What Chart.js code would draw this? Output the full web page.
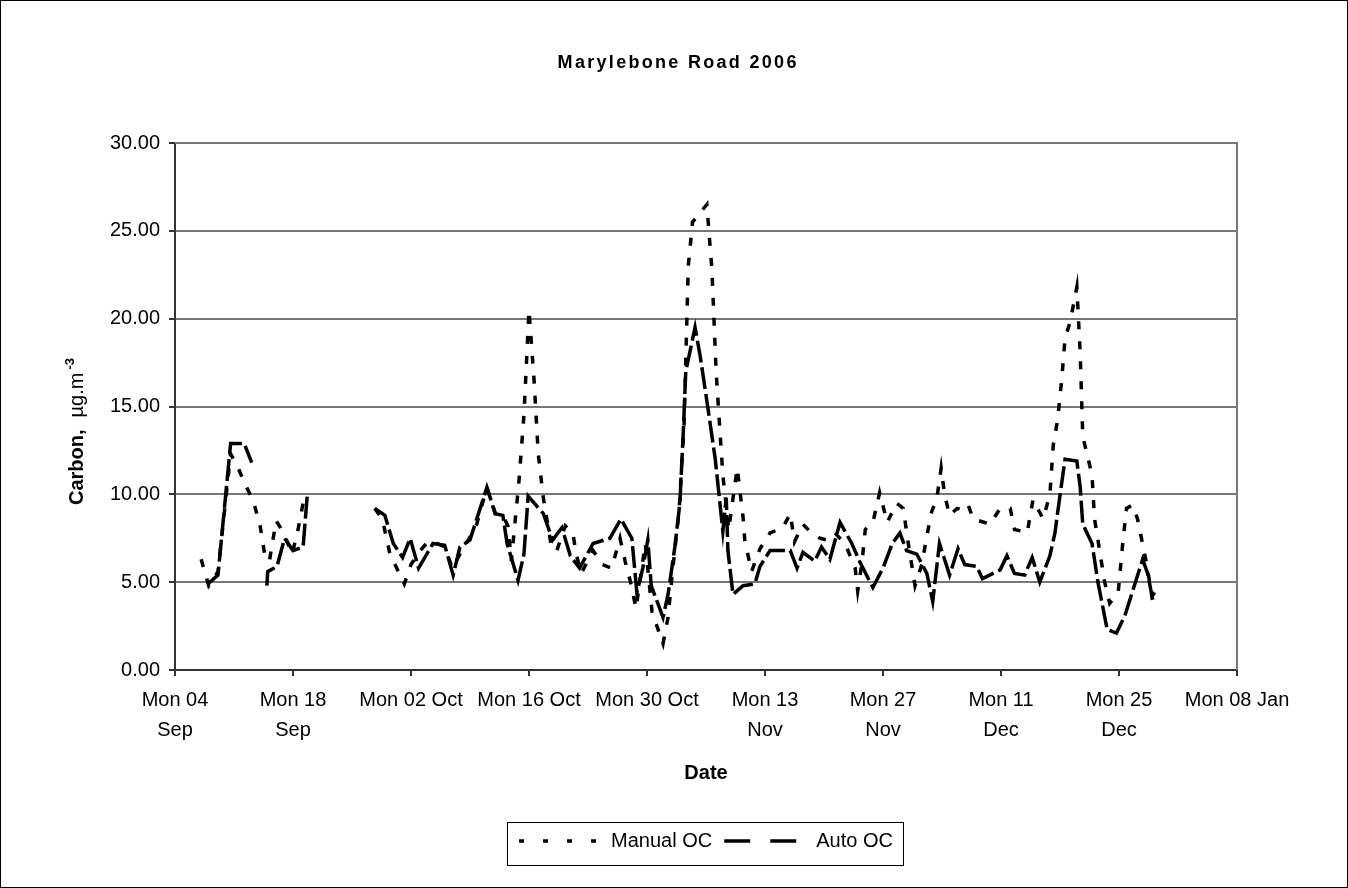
<!DOCTYPE html>
<html>
<head>
<meta charset="utf-8">
<script src="https://cdn.jsdelivr.net/npm/chart.js@4/dist/chart.umd.min.js"></script>
<style>
html,body{margin:0;padding:0;background:#fff;}
#wrap{width:1348px;height:888px;}
canvas{display:block;}
</style>
</head>
<body>
<div id="wrap"><canvas id="c" width="1348" height="888"></canvas></div>
<script>
// ---------- data (days after Mon 04 Sep 2006, values in µg/m3) ----------
const chartTitle = 'Marylebone Road 2006';
const xAxisTitle = 'Date';
const yAxisTitleMain = 'Carbon,';
const yAxisTitleUnit = 'µg.m';
const yAxisTitleSup = '-3';
const seriesNames = ['Manual OC', 'Auto OC'];
const xTickLabels = [['Mon 04', 'Sep'], ['Mon 18', 'Sep'], 'Mon 02 Oct', 'Mon 16 Oct', 'Mon 30 Oct',
  ['Mon 13', 'Nov'], ['Mon 27', 'Nov'], ['Mon 11', 'Dec'], ['Mon 25', 'Dec'], 'Mon 08 Jan'];

const manualDays = [3.1,4.0,5.1,6.6,7.4,8.3,9.3,10.1,10.7,11.2,12.0,12.9,13.9,14.6,15.4,
  19,
  23.7,24.6,25.5,26.3,27.2,28.0,29.1,30.0,31.1,32.0,32.9,33.8,34.8,35.8,37.0,38.0,38.9,39.5,39.9,40.8,
  41.4,42.0,42.6,43.1,43.7,44.7,45.3,46.3,47.2,47.6,48.2,49.6,50.7,51.8,52.8,53.4,54.0,54.7,55.8,56.6,
  57.9,58.5,59.0,59.8,60.4,60.9,61.4,63.1,63.7,64.2,64.6,65.0,65.7,66.7,67.4,67.6,68.4,69.4,70.6,72.1,
  73.0,73.5,74.5,75.3,76.5,77.3,78.3,79.5,80.7,81.0,81.5,81.9,82.8,83.6,84.5,85.6,86.4,87.0,87.8,88.6,
  89.2,89.7,90.4,90.9,91.3,91.9,92.8,93.5,94.1,94.7,96.7,97.9,99.1,99.6,100.5,101.1,101.8,103.0,103.8,104.2,
  104.7,105.2,105.6,106.2,107.0,107.4,107.7,108.8,109.1,109.7,110.3,110.9,111.9,112.5,112.9,113.6,114.2,115.3,115.9,116.5,
  117.2];
const manualValues = [6.3,4.8,5.6,12.3,11.6,10.6,9.6,8.2,6.4,6.2,8.5,7.8,6.6,8.0,10.0,
  null,
  9.2,8.6,6.6,5.8,4.9,6.0,6.8,7.3,7.2,7.0,5.8,6.6,7.4,8.3,10.4,8.9,8.8,8.2,6.2,10.7,
  14.5,20.5,16.5,12.3,9.8,6.9,6.8,8.2,7.8,6.6,5.5,6.8,6.0,5.8,7.5,6.2,5.1,3.5,7.2,3.3,
  1.5,3.0,5.5,9.0,14.0,23.0,25.5,26.5,22.8,17.0,14.0,11.1,8.0,11.5,8.7,7.4,5.6,6.9,7.8,8.1,
  8.9,7.3,8.3,7.9,7.5,7.4,7.8,7.2,5.8,4.5,6.1,8.0,8.4,10.1,8.4,9.5,9.2,7.2,4.8,6.0,
  7.6,8.9,9.8,11.5,10.0,8.8,9.2,9.1,9.4,8.6,8.3,9.2,9.2,8.0,7.9,7.8,9.7,8.6,10.0,12.8,
  14.2,16.5,18.9,19.8,21.8,18.0,13.3,11.1,8.6,6.8,5.0,3.8,4.4,7.5,9.2,9.4,8.6,6.0,4.2,4.6,
  4.4];

const autoDays = [3.9,5.1,6.6,8.2,9.1,
  10,
  10.9,11.0,12.1,13.0,14.0,15.2,15.7,
  19,
  23.7,24.9,25.9,27.0,27.9,28.9,30.6,32.0,33.0,33.8,35.0,37.0,38.0,38.9,39.4,40.7,41.4,41.9,43.7,44.8,
  45.9,46.9,48.0,49.6,51.6,52.9,54.2,54.8,55.5,56.1,56.5,57.9,58.5,59.3,59.9,60.3,60.6,61.7,62.3,63.2,
  64.1,65.0,65.4,65.6,66.2,67.4,68.8,69.4,70.6,73.0,73.8,74.5,75.9,76.7,77.7,78.9,80.3,81.3,82.8,84.0,
  85.1,86.0,86.8,88.0,89.2,89.9,90.7,91.9,92.9,93.7,95.1,95.8,97.9,98.7,99.6,100.8,101.7,102.6,103.8,104.4,
  104.7,105.6,107.0,107.4,107.7,108.8,109.5,110.6,111.7,112.7,114.8,115.4,116.0];
const autoValues = [4.9,5.4,12.9,12.9,11.8,
  null,
  4.8,5.6,5.9,7.5,6.8,7.0,10.0,
  null,
  9.2,8.8,7.2,6.4,7.5,5.8,7.2,7.1,5.4,7.0,7.4,10.4,8.9,8.8,7.2,5.1,6.6,9.9,8.9,7.4,
  8.1,6.5,5.8,7.2,7.5,8.6,7.5,4.4,5.8,7.4,4.8,3.0,4.3,7.0,9.5,13.5,17.0,19.5,17.9,15.0,
  12.0,7.9,9.8,6.8,4.3,4.8,4.9,5.9,6.8,6.8,5.8,6.7,6.2,7.0,6.3,8.4,7.2,6.1,4.7,5.8,
  7.2,7.8,6.8,6.6,5.5,3.9,7.2,5.4,6.9,6.0,5.9,5.2,5.7,6.5,5.5,5.4,6.4,5.0,6.5,7.8,
  8.9,12.0,11.9,10.4,8.3,7.2,5.0,2.3,2.1,3.1,6.3,5.5,4.0];

// ---------- chart ----------
const FONT = '"Liberation Sans", Arial, sans-serif';
const toPoints = (xs, ys) => xs.map((x, i) => ({ x: x, y: ys[i] }));
const legendDashes = [[5, 19], [26, 20]];

const framePlugin = {
  id: 'frames',
  beforeDraw(chart) {
    const ctx = chart.ctx;
    ctx.save();
    ctx.fillStyle = '#fff';
    ctx.fillRect(0, 0, chart.width, chart.height);
    ctx.restore();
  },
  beforeDatasetsDraw(chart) {
    const { ctx, chartArea: a } = chart;
    ctx.save();
    ctx.strokeStyle = '#777';
    ctx.lineWidth = 2;
    ctx.beginPath();
    ctx.moveTo(a.left, a.top);
    ctx.lineTo(a.right, a.top);
    ctx.lineTo(a.right, a.bottom);
    ctx.stroke();
    ctx.restore();
  },
  afterDraw(chart) {
    const ctx = chart.ctx;
    ctx.save();
    // outer border
    ctx.strokeStyle = '#000';
    ctx.lineWidth = 1;
    ctx.strokeRect(0.5, 0.5, chart.width - 1, chart.height - 1);
    // legend box
    const hb = chart.legend && chart.legend.legendHitBoxes;
    if (hb && hb.length) {
      const l = hb[0].left - 12;
      const r = hb[hb.length - 1].left + hb[hb.length - 1].width + 10;
      const t = hb[0].top - 9;
      const b = hb[0].top + hb[0].height + 14;
      ctx.strokeRect(Math.round(l) + 0.5, Math.round(t) + 0.5, Math.round(r - l), Math.round(b - t));
    }
    // chart title (letter-spaced, bold)
    ctx.fillStyle = '#000';
    ctx.font = 'bold 18px ' + FONT;
    ctx.letterSpacing = '2.3px';
    ctx.textBaseline = 'middle';
    ctx.textAlign = 'left';
    const tw = ctx.measureText(chartTitle).width - 2.3;
    ctx.fillText(chartTitle, 677 - tw / 2, 63);
    ctx.letterSpacing = '0px';
    // y-axis title, rotated
    ctx.translate(77, 505);
    ctx.rotate(-Math.PI / 2);
    ctx.textBaseline = 'middle';
    ctx.font = 'bold 20px ' + FONT;
    ctx.fillText(yAxisTitleMain, 0, 0);
    let x = ctx.measureText(yAxisTitleMain).width + 12;
    ctx.font = '20px ' + FONT;
    ctx.fillText(yAxisTitleUnit, x, 0);
    x += ctx.measureText(yAxisTitleUnit).width + 3;
    ctx.font = 'bold 13px ' + FONT;
    ctx.fillText(yAxisTitleSup, x, -7);
    ctx.restore();
  }
};

new Chart(document.getElementById('c'), {
  type: 'line',
  data: {
    datasets: [
      {
        label: seriesNames[0],
        data: toPoints(manualDays, manualValues),
        borderColor: '#000',
        backgroundColor: '#000',
        borderWidth: 3.5,
        borderDash: [8, 12],
        borderCapStyle: 'butt',
        pointRadius: 0,
        spanGaps: false,
        tension: 0
      },
      {
        label: seriesNames[1],
        data: toPoints(autoDays, autoValues),
        borderColor: '#000',
        backgroundColor: '#000',
        borderWidth: 3.5,
        borderDash: [22, 5],
        borderCapStyle: 'butt',
        pointRadius: 0,
        spanGaps: false,
        tension: 0
      }
    ]
  },
  options: {
    responsive: false,
    animation: false,
    devicePixelRatio: 1,
    layout: { padding: { top: 143, left: 0, right: 111, bottom: 27 } },
    plugins: {
      title: { display: false },
      tooltip: { enabled: false },
      legend: {
        display: true,
        position: 'bottom',
        fullSize: false,
        labels: {
          color: '#000',
          font: { family: FONT, size: 20 },
          usePointStyle: true,
          pointStyle: 'line',
          pointStyleWidth: 82,
          boxHeight: 20,
          padding: 12,
          generateLabels(chart) {
            const items = Chart.defaults.plugins.legend.labels.generateLabels(chart);
            items.forEach((it, i) => {
              it.lineDash = legendDashes[i];
              it.lineWidth = 3.5;
              it.pointStyle = 'line';
              it.strokeStyle = '#000';
            });
            return items;
          }
        }
      }
    },
    scales: {
      x: {
        type: 'linear',
        min: 0,
        max: 126,
        afterFit(s) { s.height = 149; },
        ticks: {
          stepSize: 14,
          autoSkip: false,
          maxRotation: 0,
          minRotation: 0,
          padding: 9,
          color: '#000',
          font: { family: FONT, size: 20, lineHeight: 1.5 },
          callback: (v) => xTickLabels[Math.round(v / 14)]
        },
        grid: { drawOnChartArea: false, drawTicks: true, tickLength: 6, color: '#333', lineWidth: 2 },
        border: { display: true, color: '#333', width: 2 },
        title: {
          display: true,
          text: xAxisTitle,
          color: '#000',
          font: { family: FONT, size: 20, weight: 'bold', lineHeight: 1.2 },
          padding: { top: 0, bottom: 34 }
        }
      },
      y: {
        min: 0,
        max: 30,
        afterFit(s) { s.width = 175; },
        ticks: {
          stepSize: 5,
          padding: 9,
          color: '#000',
          font: { family: FONT, size: 20 },
          callback: (v) => Number(v).toFixed(2)
        },
        grid: { color: '#777', lineWidth: 2, tickLength: 6, tickColor: '#333' },
        border: { display: true, color: '#333', width: 2 }
      }
    }
  },
  plugins: [framePlugin]
});
</script>
</body>
</html>
